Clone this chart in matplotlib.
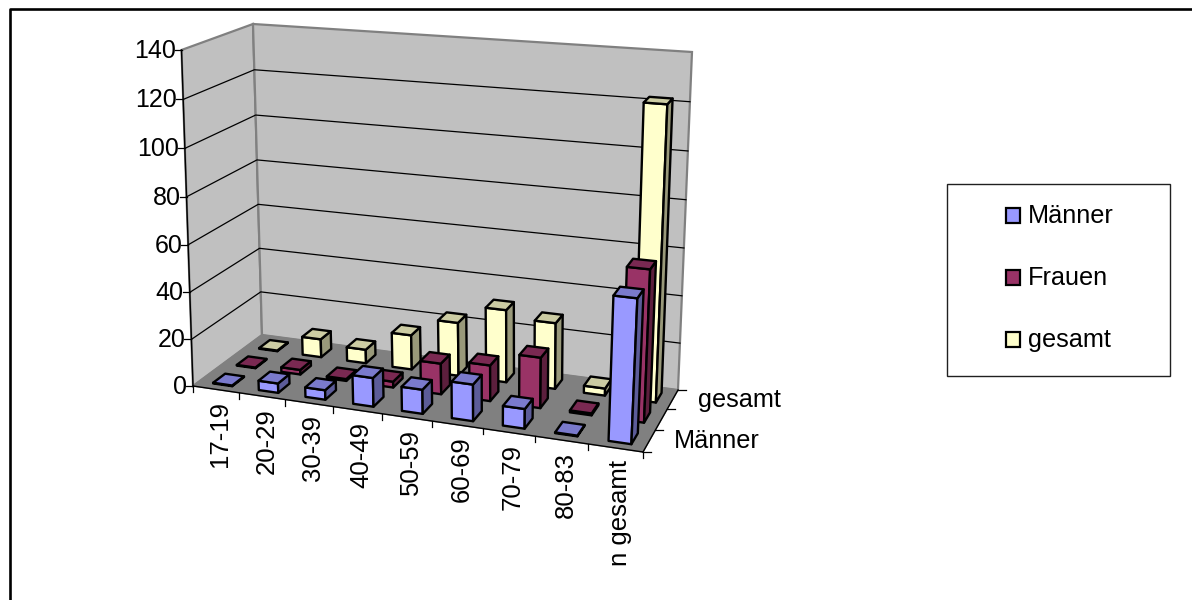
import numpy as np
import matplotlib
matplotlib.use('Agg')
import matplotlib.pyplot as plt
from matplotlib.patches import Polygon, Rectangle

plt.rcParams['font.family'] = ['Liberation Sans', 'DejaVu Sans']

categories = ['17-19', '20-29', '30-39', '40-49', '50-59', '60-69', '70-79', '80-83', 'n gesamt']
maenner = [0.3, 4, 4, 12, 10, 15, 8, 0.3, 57.5]
frauen = [0.3, 2, 0.8, 2.5, 13, 15, 21, 0.8, 62]
gesamt = [0.3, 8, 6, 15, 23, 31, 28, 3, 122]
series_names = ['Männer', 'Frauen', 'gesamt']
y_ticks = [0, 20, 40, 60, 80, 100, 120, 140]

# colours: front, top, side
colors = {
    'Männer': ('#9999FF', '#7A7ACC', '#5C5C99'),
    'Frauen': ('#993366', '#7A2952', '#5C1F3D'),
    'gesamt': ('#FFFFCC', '#CCCCA3', '#99997A'),
}

# plot box corners in pixels (front-left, front-right, back-right, back-left)
floor_px = [(193, 386), (643, 452), (678, 390), (262, 335)]
top_px = [(181.5, 50), (660, 86), (692, 52), (253, 24)]
y_max = 140
bar_width = 0.42
bar_center = 0.52
bar_depth = 0.5
z_persp = 0.035


def homography(pts):
    (x0, y0), (x1, y1), (x2, y2), (x3, y3) = pts
    a = np.array([[x1 - x2, x3 - x2], [y1 - y2, y3 - y2]], dtype=float)
    s = np.array([x0 - x1 + x2 - x3, y0 - y1 + y2 - y3], dtype=float)
    g, h = np.linalg.solve(a, s)
    return np.array([[x1 - x0 + g * x1, x3 - x0 + h * x3, x0],
                     [y1 - y0 + g * y1, y3 - y0 + h * y3, y0],
                     [g, h, 1.0]])


H_floor = homography(floor_px)
H_top = homography(top_px)


def project(u, v, z):
    # u along categories 0-1, v along depth 0-1, z in data units
    p = np.array([u, v, 1.0])
    a = H_floor @ p
    b = H_top @ p
    a = a[:2] / a[2]
    b = b[:2] / b[2]
    t = z / y_max
    t = t / (1 + z_persp * (1 - t))
    return tuple(a + (b - a) * t)


fig = plt.figure(figsize=(11.92, 6), dpi=100)
ax = fig.add_axes([0, 0, 1, 1])
ax.set_xlim(0, 1192)
ax.set_ylim(600, 0)
ax.axis('off')

# outer frame, only top and left are in the picture
ax.plot([9.5, 9.5, 1192], [600, 9, 9], color='black', lw=1.9, zorder=1)

# walls and floor
wall_edge = '#808080'
ax.add_patch(Polygon([project(0, 0, 0), project(0, 1, 0), project(0, 1, y_max), project(0, 0, y_max)],
                     fc='#C0C0C0', ec=wall_edge, lw=1.6, zorder=2))
ax.add_patch(Polygon([project(0, 1, 0), project(1, 1, 0), project(1, 1, y_max), project(0, 1, y_max)],
                     fc='#C0C0C0', ec=wall_edge, lw=1.6, zorder=2))
ax.add_patch(Polygon([project(0, 0, 0), project(1, 0, 0), project(1, 1, 0), project(0, 1, 0)],
                     fc='#808080', ec=wall_edge, lw=1.0, zorder=2))

# gridlines and value axis
for t in y_ticks:
    if 0 < t < y_max:
        pts = [project(0, 0, t), project(0, 1, t), project(1, 1, t)]
        ax.plot(*zip(*pts), color='black', lw=0.9, zorder=3)
    x, y = project(0, 0, t)
    ax.plot([x - 7, x], [y, y], color='black', lw=0.9, zorder=3)
    ax.text(x - 6, y + 1, str(t), ha='right', va='center', fontsize=18, color='black')
ax.plot(*zip(project(0, 0, 0), project(0, 0, y_max)), color='black', lw=1.0, zorder=3)

# category axis
n = len(categories)
ax.plot(*zip(project(0, 0, 0), project(1, 0, 0)), color='black', lw=1.0, zorder=3)
for i in range(n + 1):
    x, y = project(i / n, 0, 0)
    ax.plot([x, x], [y, y + 6], color='black', lw=0.9, zorder=3)
for i, cat in enumerate(categories):
    x, y = project((i + 0.5) / n, 0, 0)
    ax.text(x + 4.5, y + 12, cat, rotation=90, ha='center', va='top', fontsize=18.5, color='black')

# depth axis
m = len(series_names)
ax.plot(*zip(project(1, 0, 0), project(1, 1, 0)), color='black', lw=1.0, zorder=3)
for j in range(m + 1):
    x, y = project(1, j / m, 0)
    ax.plot([x, x + 8], [y, y], color='black', lw=0.9, zorder=3)
for j, name in enumerate(series_names):
    if j == 1:
        continue
    x, y = project(1, (j + 0.5) / m, 0)
    ax.text(x + 25, y, name, ha='left', va='center', fontsize=18.2, color='black')

# bars, back row first
zo = 10
for j, (name, vals) in reversed(list(enumerate(zip(series_names, [maenner, frauen, gesamt])))):
    front, top, side = colors[name]
    for i, val in enumerate(vals):
        u0 = (i + bar_center - bar_width / 2) / n
        u1 = (i + bar_center + bar_width / 2) / n
        v0 = (j + 0.5 - bar_depth / 2) / m
        v1 = (j + 0.5 + bar_depth / 2) / m
        faces = [
            ([project(u0, v0, 0), project(u1, v0, 0), project(u1, v0, val), project(u0, v0, val)], front),
            ([project(u1, v0, 0), project(u1, v1, 0), project(u1, v1, val), project(u1, v0, val)], side),
            ([project(u0, v0, val), project(u1, v0, val), project(u1, v1, val), project(u0, v1, val)], top),
        ]
        for pts, col in faces:
            ax.add_patch(Polygon(pts, fc=col, ec='black', lw=1.7, joinstyle='round', zorder=zo))
        zo += 1

# legend
ax.add_patch(Rectangle((947, 184), 223, 192, fc='white', ec='#202020', lw=1.0, zorder=50))
legend_y = [215, 277, 339]
for name, y in zip(series_names, legend_y):
    ax.add_patch(Rectangle((1006, y - 7), 14, 15, fc=colors[name][0], ec='black', lw=1.6, zorder=51))
    ax.text(1028, y + 1, name, ha='left', va='center', fontsize=18.2, color='black', zorder=51)

plt.savefig('out.png', dpi=100)
plt.close()
